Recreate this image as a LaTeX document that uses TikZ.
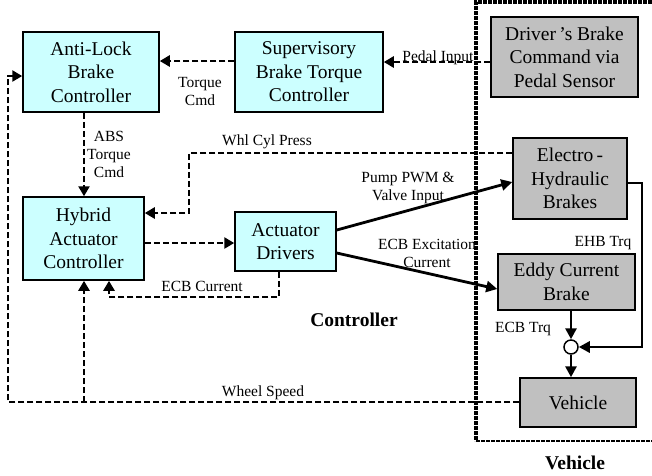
\documentclass[tikz,border=0pt]{standalone}
\usepackage{fontspec}
\setmainfont{Liberation Serif}
\usetikzlibrary{arrows.meta,calc}
\definecolor{ctrlfill}{HTML}{CCFFFF}
\definecolor{plantfill}{HTML}{C0C0C0}
\tikzset{
  blk/.style={draw=black, line width=1.5pt, align=center, inner sep=0pt,
    font=\fontsize{19.5}{23.5}\selectfont},
  ctrl/.style={blk, fill=ctrlfill},
  plant/.style={blk, fill=plantfill},
  sig/.style={line width=2.6pt, dash pattern=on 6pt off 3pt,
    -{Triangle[length=10pt,width=11pt]}},
  pwr/.style={line width=2.8pt, -{Triangle[length=11pt,width=11pt]}},
  lbl/.style={align=center, inner sep=0pt, font=\fontsize{15.5}{18}\selectfont},
  ttl/.style={inner sep=0pt, font=\fontsize{19.5}{23}\selectfont\bfseries},
  bound/.style={line width=3.2pt, dash pattern=on 4pt off 1pt}
}
\begin{document}
\begin{tikzpicture}[x=1pt,y=-1pt]
\useasboundingbox (0,0) rectangle (652,475);

% controller blocks
\node[ctrl, minimum width=136pt, minimum height=80pt] (abs) at (91,72)
  {Anti-Lock\\Brake\\Controller};
\node[ctrl, minimum width=148pt, minimum height=80pt] (sup) at (309,72)
  {Supervisory\\Brake Torque\\Controller};
\node[ctrl, minimum width=121pt, minimum height=83pt] (hyb) at (83.5,238.5)
  {Hybrid\\Actuator\\Controller};
\node[ctrl, minimum width=101pt, minimum height=59pt] (act) at (285.5,241.5)
  {Actuator\\Drivers};

% vehicle-side blocks
\node[plant, minimum width=147pt, minimum height=80pt] (drv) at (564.5,57)
  {Driver\,’s Brake\\Command via\\Pedal Sensor};
\node[plant, minimum width=114pt, minimum height=81pt] (ehb) at (570,178.5)
  {Electro\,-\\Hydraulic\\Brakes};
\node[plant, minimum width=137pt, minimum height=56pt] (ecb) at (566.5,282)
  {Eddy Current\\Brake};
\node[plant, minimum width=116pt, minimum height=49pt] (veh) at (578,402.5)
  {Vehicle};
\node[draw=black, fill=white, line width=1.5pt, circle, minimum size=14pt,
  inner sep=0pt] (sum) at (571,347) {};

% signal labels
\node[lbl] (ltq) at (200,91) {Torque\\Cmd};
\node[lbl, anchor=base] (lped) at (438,61) {Pedal Input};
\node[lbl] (labs) at (109,154) {ABS\\Torque\\Cmd};
\node[lbl] (lwhl) at (267,142) {Whl Cyl Press};
\node[lbl] (lpump) at (408,187.5) {Pump PWM \&\\Valve Input};
\node[lbl] (lexc) at (427,253.5) {ECB Excitation\\Current};
\node[lbl] (lecbc) at (202,286) {ECB Current};
\node[lbl] (lspd) at (263,393) {Wheel Speed};
\node[lbl] (lehb) at (603,243) {EHB Trq};
\node[lbl] (lecbt) at (523,329) {ECB Trq};

% section titles
\node[ttl] (tctl) at (354,320) {Controller};
\node[ttl] (tveh) at (575,463) {Vehicle};

% dashed measurement / command signals
\draw[sig] (sup.west |- 0,61) -- (abs.east |- 0,61);
\draw[sig] (drv.west |- 0,62) -- (sup.east |- 0,62);
\draw[sig] (abs.south -| 84,0) -- (hyb.north -| 84,0);
\draw[sig] (ehb.west |- 0,153) -- (189,153) -- (189,213) -- (hyb.east |- 0,213);
\draw[sig] (hyb.east |- 0,243) -- (act.west |- 0,243);
\draw[sig] (act.south -| 279,0) -- (279,297) -- (109,297) -- (hyb.south -| 109,0);
\draw[sig] (veh.west |- 0,402) -- (8,402) -- (8,76) -- (abs.west |- 0,76);
\draw[sig] (84,402) -- (hyb.south -| 84,0);

% actuator commands
\draw[pwr] (act.east |- 0,230) -- (ehb.west |- 0,182);
\draw[pwr] (act.east |- 0,253) -- (ecb.west |- 0,289);

% torque summation
\draw[pwr] (ehb.east |- 0,183) -- (642,183) -- (642,347) -- (sum.east);
\draw[pwr] (ecb.south -| sum) -- (sum.north);
\draw[pwr] (sum.south) -- (veh.north -| sum);

% vehicle boundary
\draw[bound] (652,2) -- (476,2) -- (476,441);
\draw[bound, line width=2.2pt] (476,441) -- (652,441);
\end{tikzpicture}
\end{document}
